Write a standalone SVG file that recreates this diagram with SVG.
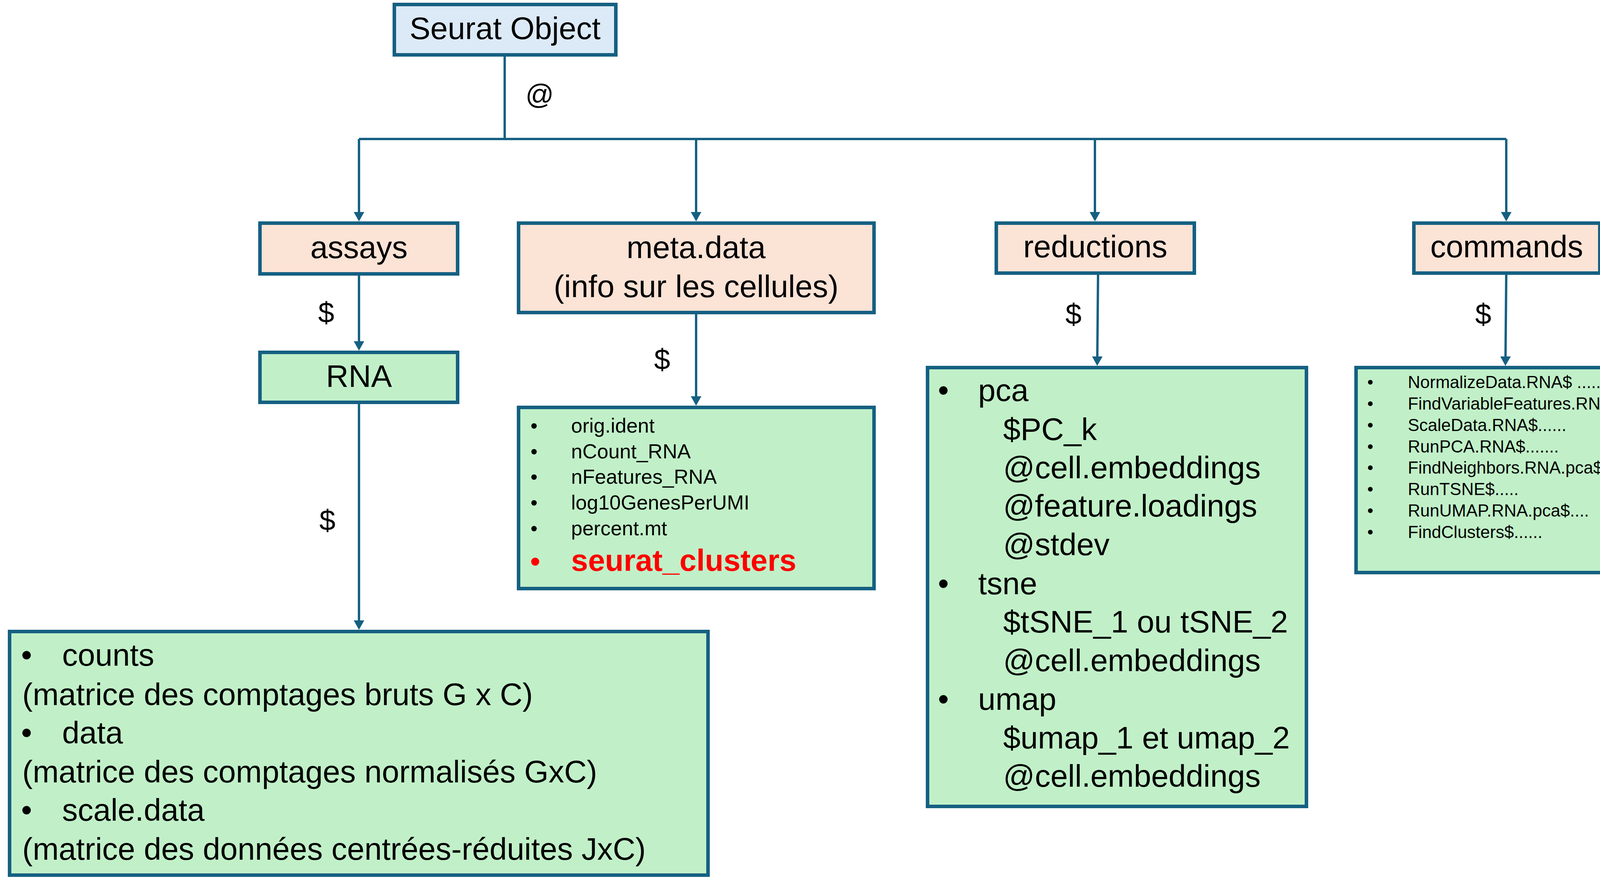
<svg xmlns="http://www.w3.org/2000/svg" width="4248" height="2277" viewBox="0 0 4248 2277">
<style>
.box{stroke:#156082;stroke-width:9}
.blue{fill:#DCEAF7}
.peach{fill:#FBE3D6}
.green{fill:#C1F0C8}
text{font-family:"Liberation Sans",Arial,sans-serif;fill:#000}
.t80{font-size:80px}
.mid{text-anchor:middle}
.meta{font-size:52px}
.cmd{font-size:44px}
.red{fill:#FF0000;font-weight:bold}
.conn{fill:none;stroke:#156082;stroke-width:6}
</style>
<defs>
<marker id="arr" markerUnits="userSpaceOnUse" markerWidth="26" markerHeight="28" refX="12" refY="13.5" orient="auto" viewBox="0 0 26 28">
<path d="M0,0 L24,13.5 L0,27 z" fill="#156082"/>
</marker>
</defs>
<rect width="4248" height="2277" fill="#fff"/>
<g id="connectors">
<path class="conn" d="M1292,145 V356"/>
<path class="conn" d="M919,356 H3856"/>
<path class="conn" d="M919,356 V555" marker-end="url(#arr)"/>
<path class="conn" d="M1782,356 V555" marker-end="url(#arr)"/>
<path class="conn" d="M2803,356 V555" marker-end="url(#arr)"/>
<path class="conn" d="M3856,356 V555" marker-end="url(#arr)"/>
<path class="conn" d="M919,706 V886" marker-end="url(#arr)"/>
<path class="conn" d="M919,1035 V1601" marker-end="url(#arr)"/>
<path class="conn" d="M1782,805 V1027" marker-end="url(#arr)"/>
<path class="conn" d="M2811,704 L2809,925" marker-end="url(#arr)"/>
<path class="conn" d="M3856,704 L3854,925" marker-end="url(#arr)"/>
<text class="t80" x="1345" y="266" style="font-size:72px">@</text>
<text class="t80 mid" x="835" y="826" style="font-size:74px">$</text>
<text class="t80 mid" x="838" y="1358" style="font-size:74px">$</text>
<text class="t80 mid" x="1695" y="946" style="font-size:74px">$</text>
<text class="t80 mid" x="2748" y="830" style="font-size:74px">$</text>
<text class="t80 mid" x="3797" y="830" style="font-size:74px">$</text>
</g>
<g id="seurat">
<rect class="box blue" x="1009.5" y="11.5" width="567" height="129"/>
<text class="t80 mid" x="1293" y="100">Seurat Object</text>
</g>
<g id="assays">
<rect class="box peach" x="665.5" y="571.5" width="506" height="130"/>
<text class="t80 mid" x="919" y="661">assays</text>
</g>
<g id="metadata">
<rect class="box peach" x="1327.5" y="571.5" width="910" height="229"/>
<text class="t80 mid" x="1782" y="661">meta.data</text>
<text class="t80 mid" x="1782" y="761">(info sur les cellules)</text>
</g>
<g id="reductions">
<rect class="box peach" x="2550.5" y="571.5" width="507" height="128"/>
<text class="t80 mid" x="2804" y="659">reductions</text>
</g>
<g id="commands">
<rect class="box peach" x="3619.5" y="571.5" width="476" height="128"/>
<text class="t80 mid" x="3857" y="659">commands</text>
</g>
<g id="rna">
<rect class="box green" x="665.5" y="902.5" width="506" height="128"/>
<text class="t80 mid" x="919" y="991">RNA</text>
</g>
<g id="metalist">
<rect class="box green" x="1327.5" y="1043.5" width="910" height="464"/>
<g class="meta">
<text class="mid" x="1367" y="1108">•</text><text x="1462" y="1108">orig.ident</text>
<text class="mid" x="1367" y="1174">•</text><text x="1462" y="1174">nCount_RNA</text>
<text class="mid" x="1367" y="1239">•</text><text x="1462" y="1239">nFeatures_RNA</text>
<text class="mid" x="1367" y="1305">•</text><text x="1462" y="1305">log10GenesPerUMI</text>
<text class="mid" x="1367" y="1371">•</text><text x="1462" y="1371">percent.mt</text>
</g>
<text class="mid red" x="1370" y="1462" style="font-size:72px">•</text>
<text class="red" x="1462" y="1462" style="font-size:78px">seurat_clusters</text>
</g>
<g id="rnalist">
<rect class="box green" x="24.5" y="1617.5" width="1788" height="624"/>
<g class="t80">
<text class="mid" x="68" y="1705">•</text><text x="159" y="1705">counts</text>
<text x="57" y="1806">(matrice des comptages bruts G x C)</text>
<text class="mid" x="68" y="1904">•</text><text x="159" y="1904">data</text>
<text x="57" y="2004">(matrice des comptages normalisés GxC)</text>
<text class="mid" x="68" y="2102">•</text><text x="159" y="2102">scale.data</text>
<text x="57" y="2202">(matrice des données centrées-réduites JxC)</text>
</g>
</g>
<g id="reductionslist">
<rect class="box green" x="2374.5" y="941.5" width="970" height="1124"/>
<g class="t80">
<text class="mid" x="2415" y="1027">•</text><text x="2504" y="1027">pca</text>
<text x="2568" y="1127">$PC_k</text>
<text x="2568" y="1225">@cell.embeddings</text>
<text x="2568" y="1323">@feature.loadings</text>
<text x="2568" y="1422">@stdev</text>
<text class="mid" x="2415" y="1522">•</text><text x="2504" y="1522">tsne</text>
<text x="2568" y="1620">$tSNE_1 ou tSNE_2</text>
<text x="2568" y="1719">@cell.embeddings</text>
<text class="mid" x="2415" y="1818">•</text><text x="2504" y="1818">umap</text>
<text x="2568" y="1917">$umap_1 et umap_2</text>
<text x="2568" y="2015">@cell.embeddings</text>
</g>
</g>
<g id="commandslist">
<rect class="box green" x="3471.5" y="941.5" width="766" height="525"/>
<g class="cmd">
<text class="mid" x="3508" y="994">•</text><text x="3604" y="994">NormalizeData.RNA$ ......</text>
<text class="mid" x="3508" y="1049">•</text><text x="3604" y="1049">FindVariableFeatures.RNA$...</text>
<text class="mid" x="3508" y="1104">•</text><text x="3604" y="1104">ScaleData.RNA$......</text>
<text class="mid" x="3508" y="1159">•</text><text x="3604" y="1159">RunPCA.RNA$.......</text>
<text class="mid" x="3508" y="1213">•</text><text x="3604" y="1213">FindNeighbors.RNA.pca$.....</text>
<text class="mid" x="3508" y="1268">•</text><text x="3604" y="1268">RunTSNE$.....</text>
<text class="mid" x="3508" y="1323">•</text><text x="3604" y="1323">RunUMAP.RNA.pca$....</text>
<text class="mid" x="3508" y="1378">•</text><text x="3604" y="1378">FindClusters$......</text>
</g>
</g>
</svg>
